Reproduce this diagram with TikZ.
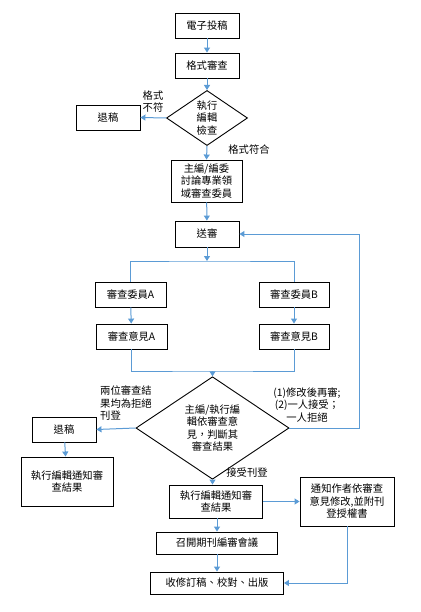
\documentclass[tikz,border=0pt]{standalone}
\usepackage{fontspec}
\setmainfont{Noto Sans CJK TC}
\usetikzlibrary{arrows.meta,shapes.geometric}
\definecolor{linkblue}{RGB}{91,155,213}

\begin{document}
\begin{tikzpicture}[x=1pt,y=-1pt,
    font=\fontsize{10.3}{12.5}\selectfont,
    box/.style={draw,line width=0.9pt,align=center,inner sep=0pt},
    check/.style={draw,diamond,line width=0.9pt,align=center,inner sep=0pt},
    flow/.style={draw=linkblue,line width=1pt,-{Triangle[width=6pt,length=5pt]}},
    link/.style={draw=linkblue,line width=1pt},
    note/.style={align=left,inner sep=0pt}]
    \useasboundingbox (0,0) rectangle (420,612);

    % boxes
    \begin{scope}[every node/.style={box}]
        \node[minimum width=64,minimum height=25] (submit) at (207,25.5) {電子投稿};
        \node[minimum width=64,minimum height=25] (format) at (207,65.5) {格式審查};
        \node[minimum width=64,minimum height=25] (reject1) at (108,117.5) {退稿};
        \node[minimum width=71,minimum height=42] (discuss) at (206.5,181) {主編/編委\\討論專業領\\域審查委員};
        \node[minimum width=64,minimum height=26] (sendrev) at (207,234) {送審};
        \node[minimum width=71,minimum height=25] (revA) at (130.5,294.5) {審查委員A};
        \node[minimum width=70,minimum height=25] (revB) at (294,294.5) {審查委員B};
        \node[minimum width=71,minimum height=25] (opA) at (131.5,336.5) {審查意見A};
        \node[minimum width=70,minimum height=25] (opB) at (294,336.5) {審查意見B};
        \node[minimum width=64,minimum height=25] (reject2) at (64,429.5) {退稿};
        \node[minimum width=92,minimum height=49] (notify1) at (67,481.5) {執行編輯通知審\\查結果};
        \node[minimum width=93,minimum height=33] (notify2) at (216,501.5) {執行編輯通知審\\查結果};
        \node[minimum width=94,minimum height=49] (author) at (347,501.5) {通知作者依審查\\意見修改,並附刊\\登授權書};
        \node[minimum width=121,minimum height=22] (meeting) at (217,543) {召開期刊編審會議};
        \node[minimum width=133,minimum height=22] (publish) at (217,583) {收修訂稿、校對、出版};
    \end{scope}

    % decisions
    \node[check,minimum width=81,minimum height=50] (check1) at (207,118) {執行\\編輯\\檢查};
    \node[check,minimum width=153,minimum height=83] (check2) at (212.5,428) {主編/執行編\\輯依審查意\\見，判斷其\\審查結果};

    % labels
    \node[note,align=center] (lblbad) at (153,101.5) {格式\\不符};
    \node[note] (lblok) at (249,150) {格式符合};
    \node[note,anchor=north west] (lblrej) at (100,386) {兩位審查結\\果均為拒絕\\刊登};
    \node[note,align=center] (lblagain) at (307,405) {(1)修改後再審;\\(2)一人接受；\\一人拒絕};
    \node[note] (lblacc) at (247,473) {接受刊登};

    \coordinate (split) at (207,261);
    \coordinate (join) at (212.5,371);
    \coordinate (back) at (359,234);

    % connectors
    \path[flow] (submit) -- (format);
    \path[flow] (format) -- (check1);
    \path[flow] (check1.west) -- (reject1.east);
    \path[flow] (check1.south) -- (discuss.north);
    \path[flow] (discuss) -- (sendrev);
    \path[flow] (sendrev.south) -- (split);
    \path[link] (revA.north) |- (split) -| (revB.north);
    \path[flow] (revA) -- (opA);
    \path[flow] (revB) -- (opB);
    \path[link] (opA.south) |- (join) -| (opB.south);
    \path[flow] (join) -- (check2.north);
    \path[flow] (check2.west) -- (reject2.east);
    \path[flow] (check2.east) -| (back) -- (sendrev.east);
    \path[flow] (reject2) -- (notify1);
    \path[flow] (check2.south) -- (check2.south |- notify2.north);
    \path[flow] (notify2.east) -- (author.west);
    \path[flow] (meeting.north |- notify2.south) -- (meeting.north);
    \path[flow] (meeting) -- (publish);
    \path[flow] (author.south) |- (publish.east);
\end{tikzpicture}
\end{document}
